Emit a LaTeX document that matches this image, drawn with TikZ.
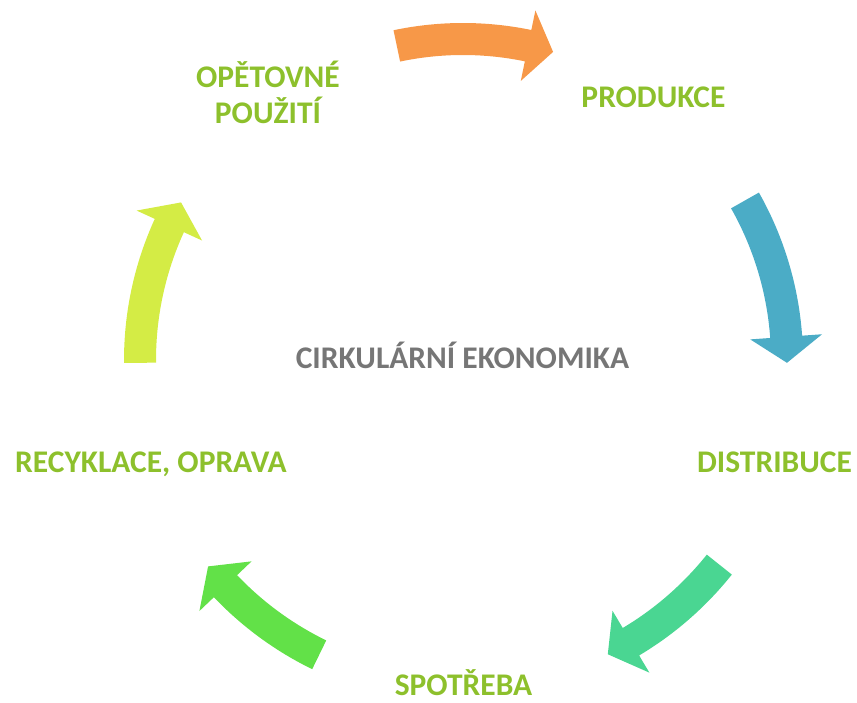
\documentclass[tikz,border=0pt]{standalone}
\usepackage{fontspec}
\setmainfont{Carlito}
\definecolor{labelgreen}{RGB}{141,192,44}
\definecolor{centergray}{RGB}{118,118,118}
\definecolor{arrowOrange}{RGB}{247,152,72}
\definecolor{arrowBlue}{RGB}{75,172,198}
\definecolor{arrowTeal}{RGB}{74,214,146}
\definecolor{arrowGreen}{RGB}{98,225,72}
\definecolor{arrowYellow}{RGB}{212,236,69}

\tikzset{x=1pt,y=1pt,
  every node/.style={font=\fontsize{31.5}{36}\selectfont\bfseries,inner sep=0pt,anchor=base},
  steplabel/.style={text=labelgreen,align=center},
  title/.style={text=centergray}}

\begin{document}
\begin{tikzpicture}
    \useasboundingbox (0,0) rectangle (857,703);

    % curved arrows round the cycle: start/apex angle/radius/colour
    \begin{scope}[shift={(463,343)}]
    \foreach \a/\b/\r/\c in {101.9/73.7/321/arrowOrange,29.5/-0.5/324/arrowBlue,
                             -38.6/-63.8/328/arrowTeal,-116/-141/328/arrowGreen,
                             180.5/150.8/323/arrowYellow}{
        \pgfmathsetmacro{\h}{\b+4.6}
        \fill[\c] (\a:\r+16) arc[start angle=\a,end angle=\h,radius=\r+16]
            -- (\h:\r+36) -- (\b:\r) -- (\h:\r-36)
            -- (\h:\r-16) arc[start angle=\h,end angle=\a,radius=\r-16] -- cycle;
    }
    \end{scope}

    \node[title] (eco) at (462.5,334) {CIRKULÁRNÍ EKONOMIKA};
    \node[steplabel] (prod) at (653.5,595) {PRODUKCE};
    \node[steplabel] (dist) at (774.5,230) {DISTRIBUCE};
    \node[steplabel] (spot) at (463.5,7) {SPOTŘEBA};
    \node[steplabel] (recy) at (151,230) {RECYKLACE, OPRAVA};
    \node[steplabel] (reuse) at (268,579) {OPĚTOVNÉ\\POUŽITÍ};
\end{tikzpicture}
\end{document}
